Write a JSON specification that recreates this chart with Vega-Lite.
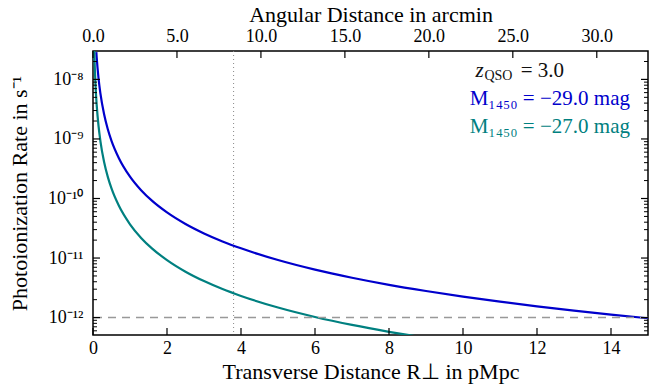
{
  "$schema": "https://vega.github.io/schema/vega-lite/v6.json",
  "width": 555,
  "height": 284,
  "autosize": {"type": "none"},
  "padding": {"left": 93, "top": 51, "right": 3, "bottom": 51},
  "background": "white",
  "config": {
    "view": {"stroke": "#000000", "strokeWidth": 1.5},
    "font": "Liberation Serif",
    "axis": {
      "domain": false,
      "grid": false,
      "ticks": false,
      "labelFlush": false,
      "labelFont": "Liberation Serif",
      "labelFontSize": 18,
      "labelColor": "#000000",
      "titleFont": "Liberation Serif",
      "titleFontSize": 22,
      "titleFontWeight": "normal",
      "titleColor": "#000000"
    }
  },
  "datasets": {
    "majorY": [{"v": 1e-12}, {"v": 1e-11}, {"v": 1e-10}, {"v": 1e-9}, {"v": 1e-8}],
    "minorY": [
      {"v": 6e-13}, {"v": 7e-13}, {"v": 8e-13}, {"v": 9e-13},
      {"v": 2e-12}, {"v": 3e-12}, {"v": 4e-12}, {"v": 5e-12}, {"v": 6e-12}, {"v": 7e-12}, {"v": 8e-12}, {"v": 9e-12},
      {"v": 2e-11}, {"v": 3e-11}, {"v": 4e-11}, {"v": 5e-11}, {"v": 6e-11}, {"v": 7e-11}, {"v": 8e-11}, {"v": 9e-11},
      {"v": 2e-10}, {"v": 3e-10}, {"v": 4e-10}, {"v": 5e-10}, {"v": 6e-10}, {"v": 7e-10}, {"v": 8e-10}, {"v": 9e-10},
      {"v": 2e-9}, {"v": 3e-9}, {"v": 4e-9}, {"v": 5e-9}, {"v": 6e-9}, {"v": 7e-9}, {"v": 8e-9}, {"v": 9e-9},
      {"v": 2e-8}
    ]
  },
  "layer": [
    {
      "data": {
        "values": [
          {"R": 0.09, "G": 2.88e-8, "s": "M29"},
          {"R": 0.1, "G": 2.33e-8, "s": "M29"},
          {"R": 0.15, "G": 1.036e-8, "s": "M29"},
          {"R": 0.2, "G": 5.83e-9, "s": "M29"},
          {"R": 0.3, "G": 2.59e-9, "s": "M29"},
          {"R": 0.4, "G": 1.456e-9, "s": "M29"},
          {"R": 0.5, "G": 9.32e-10, "s": "M29"},
          {"R": 0.7, "G": 4.76e-10, "s": "M29"},
          {"R": 1.0, "G": 2.33e-10, "s": "M29"},
          {"R": 1.3, "G": 1.379e-10, "s": "M29"},
          {"R": 1.6, "G": 9.1e-11, "s": "M29"},
          {"R": 2.0, "G": 5.83e-11, "s": "M29"},
          {"R": 2.5, "G": 3.73e-11, "s": "M29"},
          {"R": 3.0, "G": 2.59e-11, "s": "M29"},
          {"R": 3.5, "G": 1.902e-11, "s": "M29"},
          {"R": 4.0, "G": 1.456e-11, "s": "M29"},
          {"R": 5.0, "G": 9.25e-12, "s": "M29"},
          {"R": 6.0, "G": 6.38e-12, "s": "M29"},
          {"R": 7.0, "G": 4.67e-12, "s": "M29"},
          {"R": 8.0, "G": 3.55e-12, "s": "M29"},
          {"R": 9.0, "G": 2.8e-12, "s": "M29"},
          {"R": 10.0, "G": 2.25e-12, "s": "M29"},
          {"R": 11.0, "G": 1.85e-12, "s": "M29"},
          {"R": 12.0, "G": 1.545e-12, "s": "M29"},
          {"R": 13.0, "G": 1.31e-12, "s": "M29"},
          {"R": 14.0, "G": 1.125e-12, "s": "M29"},
          {"R": 15.0, "G": 9.75e-13, "s": "M29"},
          {"R": 0.035, "G": 3.01e-8, "s": "M27"},
          {"R": 0.04, "G": 2.31e-8, "s": "M27"},
          {"R": 0.05, "G": 1.476e-8, "s": "M27"},
          {"R": 0.07, "G": 7.53e-9, "s": "M27"},
          {"R": 0.1, "G": 3.69e-9, "s": "M27"},
          {"R": 0.15, "G": 1.64e-9, "s": "M27"},
          {"R": 0.2, "G": 9.23e-10, "s": "M27"},
          {"R": 0.3, "G": 4.1e-10, "s": "M27"},
          {"R": 0.4, "G": 2.31e-10, "s": "M27"},
          {"R": 0.5, "G": 1.476e-10, "s": "M27"},
          {"R": 0.7, "G": 7.53e-11, "s": "M27"},
          {"R": 1.0, "G": 3.69e-11, "s": "M27"},
          {"R": 1.3, "G": 2.18e-11, "s": "M27"},
          {"R": 1.6, "G": 1.441e-11, "s": "M27"},
          {"R": 2.0, "G": 9.23e-12, "s": "M27"},
          {"R": 2.5, "G": 5.9e-12, "s": "M27"},
          {"R": 3.0, "G": 4.1e-12, "s": "M27"},
          {"R": 3.5, "G": 3.01e-12, "s": "M27"},
          {"R": 4.0, "G": 2.31e-12, "s": "M27"},
          {"R": 5.0, "G": 1.476e-12, "s": "M27"},
          {"R": 6.0, "G": 1.025e-12, "s": "M27"},
          {"R": 7.0, "G": 7.53e-13, "s": "M27"},
          {"R": 8.0, "G": 5.77e-13, "s": "M27"},
          {"R": 8.5, "G": 5.11e-13, "s": "M27"},
          {"R": 9.0, "G": 4.56e-13, "s": "M27"}
        ]
      },
      "mark": {"type": "line", "strokeWidth": 2.2, "clip": true, "interpolate": "monotone"},
      "encoding": {
        "x": {
          "field": "R", "type": "quantitative",
          "scale": {"domain": [0, 15], "nice": false, "zero": false},
          "axis": {
            "orient": "bottom",
            "values": [0, 2, 4, 6, 8, 10, 12, 14],
            "format": "d",
            "labelPadding": 4,
            "title": "Transverse Distance R⊥ in pMpc",
            "titlePadding": 4
          }
        },
        "y": {
          "field": "G", "type": "quantitative",
          "scale": {"type": "log", "domain": [5.1e-13, 3e-8], "nice": false},
          "axis": {
            "orient": "left",
            "values": [1e-12, 1e-11, 1e-10, 1e-9, 1e-8],
            "labelPadding": 10,
            "labelExpr": "datum.value < 3e-12 ? '10⁻¹²' : datum.value < 3e-11 ? '10⁻¹¹' : datum.value < 3e-10 ? '10⁻¹⁰' : datum.value < 3e-9 ? '10⁻⁹' : '10⁻⁸'",
            "title": "Photoionization Rate in s⁻¹",
            "titlePadding": 16
          }
        },
        "color": {
          "field": "s", "type": "nominal",
          "scale": {"domain": ["M29", "M27", "z"], "range": ["#0000cc", "#008080", "#111111"]},
          "legend": null
        },
        "detail": {"field": "s"}
      }
    },
    {
      "data": {"values": [{}]},
      "mark": {"type": "rule", "color": "#999999", "strokeWidth": 1.5, "strokeDash": [8, 6]},
      "encoding": {
        "y": {
          "datum": 1e-12, "type": "quantitative",
          "scale": {"type": "log", "domain": [5.1e-13, 3e-8], "nice": false},
          "axis": null
        }
      }
    },
    {
      "data": {"values": [{}]},
      "mark": {"type": "rule", "color": "#888888", "strokeWidth": 1, "strokeDash": [1, 3]},
      "encoding": {
        "x": {
          "datum": 3.8, "type": "quantitative",
          "scale": {"domain": [0, 15], "nice": false, "zero": false},
          "axis": null
        }
      }
    },
    {
      "data": {"values": [{"v": 0}, {"v": 2}, {"v": 4}, {"v": 6}, {"v": 8}, {"v": 10}, {"v": 12}, {"v": 14}]},
      "mark": {"type": "rule", "color": "#000000", "strokeWidth": 1.2},
      "encoding": {
        "x": {"field": "v", "type": "quantitative", "scale": {"domain": [0, 15], "nice": false, "zero": false}, "axis": null},
        "y": {"datum": 5.1e-13, "type": "quantitative", "scale": {"type": "log", "domain": [5.1e-13, 3e-8], "nice": false}, "axis": null},
        "y2": {"datum": 6.69e-13}
      }
    },
    {
      "data": {"values": [{"v": 0}, {"v": 5}, {"v": 10}, {"v": 15}, {"v": 20}, {"v": 25}, {"v": 30}]},
      "mark": {"type": "rule", "color": "#000000", "strokeWidth": 1.2},
      "encoding": {
        "x": {"field": "v", "type": "quantitative", "scale": {"domain": [0, 33.05], "nice": false, "zero": false}, "axis": null},
        "y": {"datum": 3e-8, "type": "quantitative", "scale": {"type": "log", "domain": [5.1e-13, 3e-8], "nice": false}, "axis": null},
        "y2": {"datum": 2.29e-8}
      }
    },
    {
      "data": {"name": "majorY"},
      "mark": {"type": "rule", "color": "#000000", "strokeWidth": 1.2},
      "encoding": {
        "y": {"field": "v", "type": "quantitative", "scale": {"type": "log", "domain": [5.1e-13, 3e-8], "nice": false}, "axis": null},
        "x": {"datum": 0, "type": "quantitative", "scale": {"domain": [0, 15], "nice": false, "zero": false}, "axis": null},
        "x2": {"datum": 0.189}
      }
    },
    {
      "data": {"name": "majorY"},
      "mark": {"type": "rule", "color": "#000000", "strokeWidth": 1.2},
      "encoding": {
        "y": {"field": "v", "type": "quantitative", "scale": {"type": "log", "domain": [5.1e-13, 3e-8], "nice": false}, "axis": null},
        "x": {"datum": 14.811, "type": "quantitative", "scale": {"domain": [0, 15], "nice": false, "zero": false}, "axis": null},
        "x2": {"datum": 15}
      }
    },
    {
      "data": {"name": "minorY"},
      "mark": {"type": "rule", "color": "#000000", "strokeWidth": 1},
      "encoding": {
        "y": {"field": "v", "type": "quantitative", "scale": {"type": "log", "domain": [5.1e-13, 3e-8], "nice": false}, "axis": null},
        "x": {"datum": 0, "type": "quantitative", "scale": {"domain": [0, 15], "nice": false, "zero": false}, "axis": null},
        "x2": {"datum": 0.108}
      }
    },
    {
      "data": {"name": "minorY"},
      "mark": {"type": "rule", "color": "#000000", "strokeWidth": 1},
      "encoding": {
        "y": {"field": "v", "type": "quantitative", "scale": {"type": "log", "domain": [5.1e-13, 3e-8], "nice": false}, "axis": null},
        "x": {"datum": 14.892, "type": "quantitative", "scale": {"domain": [0, 15], "nice": false, "zero": false}, "axis": null},
        "x2": {"datum": 15}
      }
    },
    {
      "data": {
        "values": [
          {"t": "= 3.0", "R": 11.56, "G": 1.1e-8, "s": "z"},
          {"t": "M₁₄₅₀ = −29.0 mag", "R": 10.18, "G": 3.72e-9, "s": "M29"},
          {"t": "M₁₄₅₀ = −27.0 mag", "R": 10.18, "G": 1.26e-9, "s": "M27"}
        ]
      },
      "mark": {"type": "text", "align": "left", "baseline": "alphabetic", "fontSize": 21, "font": "Liberation Serif"},
      "encoding": {
        "x": {"field": "R", "type": "quantitative", "scale": {"domain": [0, 15], "nice": false, "zero": false}, "axis": null},
        "y": {"field": "G", "type": "quantitative", "scale": {"type": "log", "domain": [5.1e-13, 3e-8], "nice": false}, "axis": null},
        "text": {"field": "t"},
        "color": {"field": "s", "type": "nominal", "legend": null}
      }
    },
    {
      "data": {"values": [{"t": "z", "R": 10.34, "G": 1.1e-8, "s": "z"}]},
      "mark": {"type": "text", "align": "left", "baseline": "alphabetic", "fontSize": 21, "fontStyle": "italic", "font": "Liberation Serif"},
      "encoding": {
        "x": {"field": "R", "type": "quantitative", "scale": {"domain": [0, 15], "nice": false, "zero": false}, "axis": null},
        "y": {"field": "G", "type": "quantitative", "scale": {"type": "log", "domain": [5.1e-13, 3e-8], "nice": false}, "axis": null},
        "text": {"field": "t"},
        "color": {"field": "s", "type": "nominal", "legend": null}
      }
    },
    {
      "data": {"values": [{"t": "QSO", "R": 10.58, "G": 9.6e-9, "s": "z"}]},
      "mark": {"type": "text", "align": "left", "baseline": "alphabetic", "fontSize": 14, "font": "Liberation Serif"},
      "encoding": {
        "x": {"field": "R", "type": "quantitative", "scale": {"domain": [0, 15], "nice": false, "zero": false}, "axis": null},
        "y": {"field": "G", "type": "quantitative", "scale": {"type": "log", "domain": [5.1e-13, 3e-8], "nice": false}, "axis": null},
        "text": {"field": "t"},
        "color": {"field": "s", "type": "nominal", "legend": null}
      }
    },
    {
      "data": {"values": [{"a": 0}, {"a": 33.05}]},
      "mark": {"type": "point", "opacity": 0},
      "encoding": {
        "x": {
          "field": "a", "type": "quantitative",
          "scale": {"domain": [0, 33.05], "nice": false, "zero": false},
          "axis": {
            "orient": "top",
            "values": [0, 5, 10, 15, 20, 25, 30],
            "format": ".1f",
            "labelPadding": 5.5,
            "title": "Angular Distance in arcmin",
            "titlePadding": 1
          }
        }
      }
    }
  ],
  "resolve": {"scale": {"x": "independent"}, "axis": {"x": "independent", "y": "independent"}}
}
